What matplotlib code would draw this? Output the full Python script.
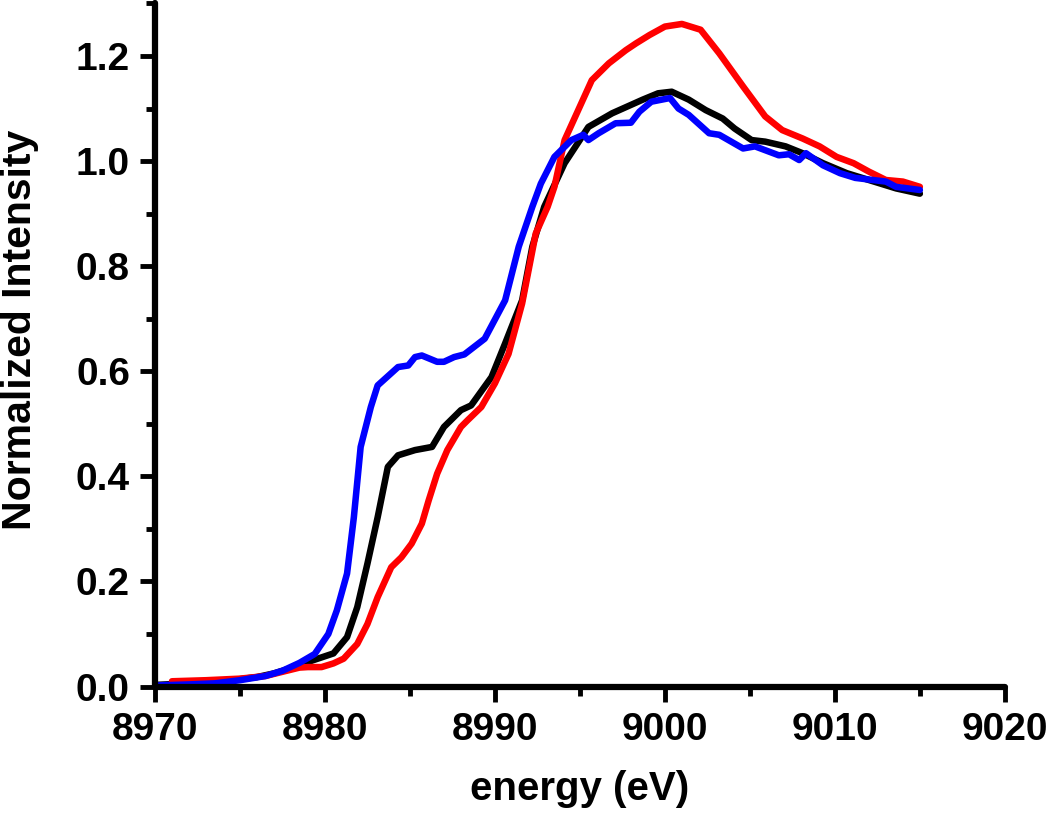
import numpy as np
import matplotlib
matplotlib.use("Agg")
import matplotlib.pyplot as plt
from matplotlib.ticker import MultipleLocator

plt.rcParams['font.family'] = ['Liberation Sans', 'DejaVu Sans']
plt.rcParams['font.weight'] = 'bold'

# black curve
black_x = [8970.0, 8972.0, 8974.0, 8976.0, 8977.0, 8978.0, 8979.3, 8980.5, 8981.3, 8981.9,
           8982.5, 8983.1, 8983.7, 8984.3, 8985.3, 8986.3, 8987.0, 8988.0, 8988.6, 8989.8,
           8990.6, 8991.6, 8992.2, 8992.9, 8994.1, 8995.5, 8996.9, 8998.7, 8999.6, 9000.4,
           9001.4, 9002.4, 9003.4, 9004.1, 9005.1, 9005.9, 9007.1, 9008.1, 9009.3, 9010.7,
           9012.0, 9013.6, 9015.0]
black_y = [0.003, 0.006, 0.010, 0.018, 0.025, 0.035, 0.050, 0.063, 0.094, 0.151,
           0.234, 0.322, 0.418, 0.440, 0.450, 0.456, 0.494, 0.526, 0.535, 0.589,
           0.653, 0.735, 0.837, 0.913, 0.996, 1.065, 1.091, 1.117, 1.129, 1.132,
           1.117, 1.097, 1.081, 1.062, 1.040, 1.037, 1.028, 1.015, 0.996, 0.977,
           0.964, 0.948, 0.938]

# red curve
red_x = [8971.0, 8973.0, 8975.0, 8976.5, 8977.5, 8978.5, 8979.0, 8979.8, 8980.5, 8981.1,
         8981.9, 8982.5, 8983.1, 8983.9, 8984.5, 8985.1, 8985.7, 8986.1, 8986.6, 8987.2,
         8988.0, 8988.4, 8989.2, 8990.0, 8990.8, 8991.6, 8992.4, 8993.1, 8993.5, 8994.1,
         8995.7, 8996.7, 8997.7, 8998.3, 8999.1, 9000.0, 9001.0, 9002.1, 9003.2, 9004.6,
         9005.9, 9006.9, 9008.1, 9009.1, 9010.1, 9011.1, 9012.0, 9013.0, 9014.0, 9015.0]
red_y = [0.010, 0.012, 0.015, 0.020, 0.028, 0.036, 0.037, 0.037, 0.044, 0.053,
         0.081, 0.119, 0.170, 0.227, 0.246, 0.272, 0.310, 0.354, 0.405, 0.450,
         0.494, 0.507, 0.532, 0.577, 0.633, 0.729, 0.862, 0.913, 0.951, 1.040,
         1.154, 1.186, 1.211, 1.224, 1.240, 1.256, 1.261, 1.250, 1.205, 1.142,
         1.085, 1.059, 1.043, 1.028, 1.008, 0.996, 0.980, 0.964, 0.961, 0.951]

# blue curve
blue_x = [8970.0, 8972.0, 8973.5, 8975.0, 8976.5, 8977.5, 8978.5, 8979.4, 8980.2, 8980.7,
          8981.3, 8981.7, 8982.1, 8982.7, 8983.1, 8984.3, 8984.9, 8985.3, 8985.7, 8986.6,
          8987.0, 8987.6, 8988.2, 8989.4, 8990.6, 8991.4, 8992.2, 8992.7, 8993.5, 8994.5,
          8995.2, 8995.5, 8996.1, 8997.1, 8998.0, 8998.5, 8999.2, 9000.3, 9000.8, 9001.4,
          9002.6, 9003.2, 9004.6, 9005.3, 9006.7, 9007.3, 9007.9, 9008.3, 9009.3, 9010.3,
          9011.2, 9013.0, 9013.6, 9015.0]
blue_y = [0.002, 0.004, 0.006, 0.012, 0.020, 0.030, 0.045, 0.062, 0.100, 0.145,
          0.215, 0.322, 0.456, 0.532, 0.573, 0.608, 0.611, 0.627, 0.630, 0.618,
          0.618, 0.627, 0.632, 0.662, 0.735, 0.837, 0.913, 0.957, 1.008, 1.040,
          1.050, 1.040, 1.053, 1.072, 1.073, 1.094, 1.113, 1.120, 1.100, 1.088,
          1.053, 1.050, 1.024, 1.028, 1.011, 1.013, 1.002, 1.015, 0.992, 0.977,
          0.968, 0.961, 0.951, 0.945]

fig = plt.figure(figsize=(10.5, 8.21), dpi=100)
ax = fig.add_axes([0.1476, 0.1638, 0.8094, 0.832])

ax.plot(black_x, black_y, color='black', lw=4.7, solid_joinstyle='round', solid_capstyle='round')
ax.plot(red_x, red_y, color='#ff0000', lw=4.7, solid_joinstyle='round', solid_capstyle='round')
ax.plot(blue_x, blue_y, color='#0000ff', lw=4.7, solid_joinstyle='round', solid_capstyle='round')

ax.set_xlim(8970, 9020)
ax.set_ylim(0, 1.3)
ax.xaxis.set_major_locator(MultipleLocator(10))
ax.xaxis.set_minor_locator(MultipleLocator(5))
ax.yaxis.set_major_locator(MultipleLocator(0.2))
ax.yaxis.set_minor_locator(MultipleLocator(0.1))
ax.yaxis.set_major_formatter(matplotlib.ticker.FormatStrFormatter('%.1f'))

for s in ['top', 'right']:
    ax.spines[s].set_visible(False)
for s in ['left', 'bottom']:
    ax.spines[s].set_linewidth(4.5)
    ax.spines[s].set_capstyle('round')

ax.tick_params(which='major', direction='out', length=11, width=3.5, labelsize=28, pad=7)
ax.tick_params(which='minor', direction='out', length=6.5, width=3.5)

ax.set_xlabel('energy (eV)', fontsize=29, fontweight='bold', labelpad=16)
ax.set_ylabel('Normalized Intensity', fontsize=29.5, fontweight='bold')
ax.yaxis.set_label_coords(-0.137, 0.522)

fig.savefig('out.png', dpi=100)
